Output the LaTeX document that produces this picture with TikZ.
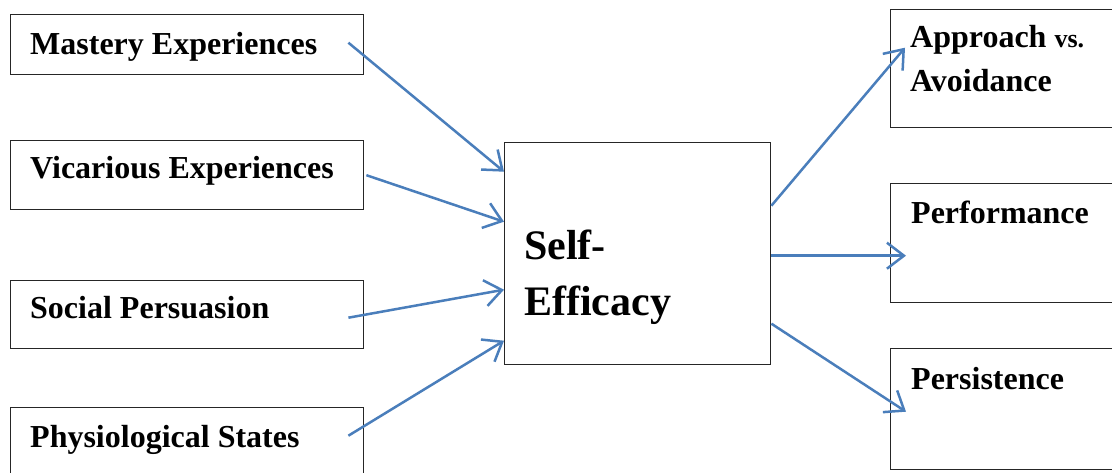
\documentclass[tikz,border=0pt]{standalone}
\usepackage{fontspec}
\setmainfont{Liberation Serif}
\usetikzlibrary{arrows.meta}
\definecolor{arrowblue}{HTML}{4A7EBB}
\begin{document}
\begin{tikzpicture}[x=1pt,y=-1pt,
  box/.style={draw=black!85, line width=1.4pt, inner sep=0pt, anchor=north west},
  lbl/.style={anchor=base west, inner sep=0pt, font=\fontsize{32}{38}\selectfont\bfseries},
  big/.style={anchor=base west, inner sep=0pt, font=\fontsize{42}{50}\selectfont\bfseries},
  link/.style={draw=arrowblue, line width=2.5pt, -{Straight Barb[length=17pt,width=26pt,line width=2.5pt]}}
]
\useasboundingbox (0,0) rectangle (1112,473);
\fill[white] (0,0) rectangle (1112,473);
\clip (0,0) rectangle (1112,473);

% left boxes
\node[box, minimum width=353pt, minimum height=60pt] (m) at (10,14) {};
\node[box, minimum width=353pt, minimum height=69pt] (v) at (10,140) {};
\node[box, minimum width=353pt, minimum height=68pt] (s) at (10,280) {};
\node[box, minimum width=353pt, minimum height=70pt] (p) at (10,407) {};
% centre
\node[box, minimum width=266pt, minimum height=222pt] (se) at (504,142) {};
% right boxes
\node[box, minimum width=240pt, minimum height=118pt] (ap) at (890,9) {};
\node[box, minimum width=240pt, minimum height=119pt] (pf) at (890,183) {};
\node[box, minimum width=240pt, minimum height=121pt] (ps) at (890,348) {};

% texts
\node[lbl] (mt) at (30,55) {Mastery Experiences};
\node[lbl] (vt) at (30,179) {Vicarious Experiences};
\node[lbl] (st) at (30,319) {Social Persuasion};
\node[lbl] (pt) at (30,447) {Physiological States};
\node[big] (set1) at (524,260) {Self-};
\node[big] (set2) at (524,316) {Efficacy};
\node[lbl] (apt1) at (910,48) {Approach {\fontsize{26}{30}\selectfont vs.}};
\node[lbl] (apt2) at (910,92) {Avoidance};
\node[lbl] (pft) at (911,224) {Performance};
\node[lbl] (pst) at (911,389) {Persistence};

% connectors
\draw[link] ([xshift=-16pt,yshift=2pt]m.east) -- ([yshift=82pt]se.west);
\draw[link] ([xshift=2pt]v.east) -- ([yshift=32pt]se.west);
\draw[link] ([xshift=-16pt,yshift=-3pt]s.east) -- ([yshift=-36pt]se.west);
\draw[link] ([xshift=-16pt,yshift=7pt]p.east) -- ([yshift=-87pt]se.west);
\draw[link] ([yshift=48pt]se.east) -- ([xshift=15pt,yshift=21pt]ap.west);
\draw[link] ([yshift=-2pt]se.east) -- ([xshift=16pt,yshift=-12.5pt]pf.west);
\draw[link] ([yshift=-70pt]se.east) -- ([xshift=16pt,yshift=-2.5pt]ps.west);
\end{tikzpicture}
\end{document}
